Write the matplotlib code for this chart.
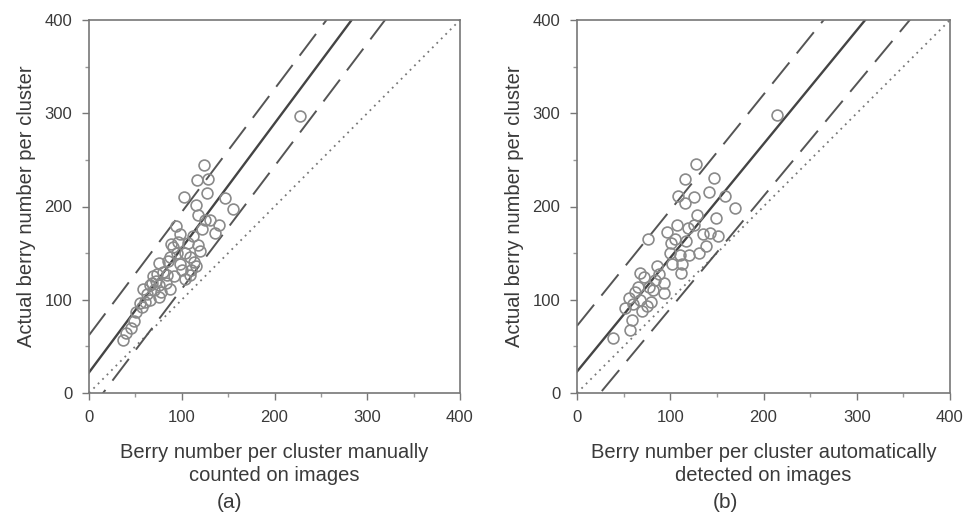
import numpy as np
import matplotlib
matplotlib.use("Agg")
import matplotlib.pyplot as plt

plt.rcParams['font.family'] = ['Liberation Sans', 'DejaVu Sans']

# Panel (a): manually counted vs actual
manual_x = [228, 124, 116, 128, 102, 127, 115, 147, 155, 118, 94, 130, 136, 98,
            107, 118, 91, 87, 109, 98, 76, 69, 84, 109, 76, 58, 66, 76, 55, 51,
            49, 40, 37, 87, 122, 112, 103, 95, 80, 72, 62, 92, 100, 113, 120, 83,
            70, 60, 45, 104, 125, 140, 88, 78, 66, 57, 96, 110, 73, 85, 115, 68]
manual_y = [297, 244, 228, 229, 210, 215, 202, 209, 197, 191, 179, 186, 172, 170,
            161, 159, 157, 146, 146, 138, 139, 125, 127, 127, 116, 111, 100, 103, 96, 87,
            77, 64, 57, 112, 176, 168, 150, 150, 130, 120, 106, 125, 132, 140, 152, 118,
            110, 98, 70, 122, 185, 180, 160, 108, 116, 92, 162, 132, 128, 142, 136, 118]

# Panel (b): automatically detected vs actual
auto_x = [214, 128, 116, 147, 108, 125, 142, 159, 116, 169, 129, 149, 107, 96,
          76, 119, 135, 143, 151, 101, 117, 110, 120, 131, 86, 102, 113, 68, 84,
          111, 65, 77, 93, 93, 56, 68, 79, 52, 75, 59, 57, 39, 88, 72, 62, 100,
          125, 138, 105, 82, 70, 60]
auto_y = [298, 246, 229, 231, 211, 210, 216, 211, 204, 198, 191, 188, 180, 173,
          165, 177, 170, 172, 168, 161, 163, 148, 148, 150, 136, 138, 138, 129, 121,
          129, 114, 114, 118, 107, 102, 100, 98, 91, 93, 78, 68, 59, 128, 124, 108, 150,
          180, 158, 165, 110, 88, 95]

# fitted lines: (slope, intercept) for regression, upper and lower bounds
fit_a = [(1.335, 22), (1.32, 62), (1.316, -20)]
fit_b = [(1.22, 23), (1.24, 72), (1.205, -30)]

xlabels = ["Berry number per cluster manually\ncounted on images",
           "Berry number per cluster automatically\ndetected on images"]
panel_tags = ["(a)", "(b)"]

fig = plt.figure(figsize=(9.64, 5.13), dpi=100)
ax_a = fig.add_axes([89 / 964, 1 - 393 / 513, 371 / 964, 373 / 513])
ax_b = fig.add_axes([577 / 964, 1 - 393 / 513, 373 / 964, 373 / 513])

text_col = "#3a3a3a"
xx = np.array([0, 400])

for ax, px, py, fit, xl in [(ax_a, manual_x, manual_y, fit_a, xlabels[0]),
                            (ax_b, auto_x, auto_y, fit_b, xlabels[1])]:
    # 1:1 line
    ax.plot(xx, xx, linestyle=(0, (1, 2.5)), color="#777777", lw=1.3)
    m, c = fit[0]
    ax.plot(xx, m * xx + c, color="#444444", lw=1.7)
    for m, c in fit[1:]:
        ax.plot(xx, m * xx + c, color="#555555", lw=1.4, linestyle=(0, (14, 6)))
    ax.plot(px, py, 'o', mfc='none', mec="#8a8a8a", ms=7.8, mew=1.2)

    ax.set_xlim(0, 400)
    ax.set_ylim(0, 400)
    ax.set_xticks([0, 100, 200, 300, 400])
    ax.set_yticks([0, 100, 200, 300, 400])
    ax.set_xticks([50, 150, 250, 350], minor=True)
    ax.set_yticks([50, 150, 250, 350], minor=True)
    ax.tick_params(which='major', direction='out', length=5, width=1,
                   colors="#777777", labelcolor=text_col, labelsize=12, pad=7)
    ax.tick_params(which='minor', direction='out', length=3, width=1, colors="#999999")
    for s in ax.spines.values():
        s.set_color("#777777")
        s.set_linewidth(1.2)
    ax.set_xlabel(xl, fontsize=14.5, color=text_col, labelpad=13, linespacing=1.3)
    ax.set_ylabel("Actual berry number per cluster", fontsize=14.5, color=text_col,
                  labelpad=6)

fig.text(230 / 964, 1 - 503 / 513, panel_tags[0], ha='center', va='center',
         fontsize=15, color=text_col)
fig.text(725 / 964, 1 - 503 / 513, panel_tags[1], ha='center', va='center',
         fontsize=15, color=text_col)

fig.savefig("out.png", dpi=100)
